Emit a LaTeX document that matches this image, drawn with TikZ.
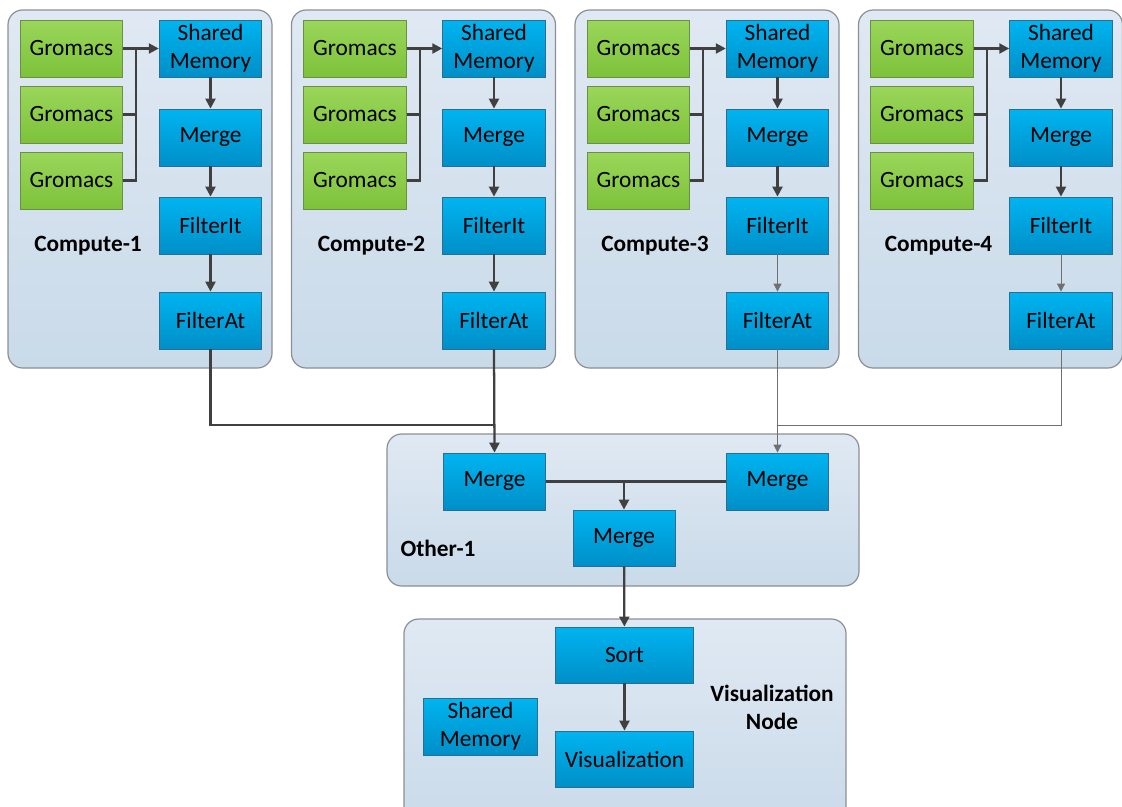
\documentclass[tikz,border=0pt]{standalone}
\usepackage{fontspec}
\setmainfont{Carlito}
\usetikzlibrary{arrows.meta}

\definecolor{hosttop}{HTML}{E0E9F3}
\definecolor{hostbot}{HTML}{C9DAE9}
\definecolor{hostline}{HTML}{8A8F95}
\definecolor{tasktop}{HTML}{00B4F0}
\definecolor{taskbot}{HTML}{008FC8}
\definecolor{taskline}{HTML}{2A6F92}
\definecolor{simtop}{HTML}{9AD65A}
\definecolor{simbot}{HTML}{7DC23A}
\definecolor{simline}{HTML}{6A8F45}
\definecolor{wirecol}{HTML}{404040}

\tikzset{
  host/.style={draw=hostline, line width=0.9pt, rounded corners=11pt,
    top color=hosttop, bottom color=hostbot},
  task/.style={draw=taskline, line width=0.6pt, top color=tasktop, bottom color=taskbot,
    minimum width=77pt, minimum height=42.75pt, inner sep=0pt, align=center},
  sim/.style={task, draw=simline, top color=simtop, bottom color=simbot},
  hostname/.style={font=\fontsize{17.5}{21}\selectfont\bfseries, align=center},
  wire/.style={draw=wirecol, line width=1.7pt},
  flow/.style={wire, -{Triangle[length=7.5pt,width=7.5pt]}},
  thinwire/.style={draw=wirecol!75, line width=0.6pt},
  thinflow/.style={thinwire, -{Triangle[length=6pt,width=6pt]}}
}

\begin{document}
\begin{tikzpicture}[x=0.75pt, y=-0.75pt,
  every node/.style={font=\fontsize{17.5}{21}\selectfont}]
\useasboundingbox (0,0) rectangle (1122,807);
\clip (0,0) rectangle (1122,807);

% compute nodes
\foreach \i in {1,...,4}{
  \pgfmathsetmacro\dx{283.5*(\i-1)}
  \draw[host] (8+\dx,10) rectangle (272+\dx,368);
  \node[sim] (gA\i) at (71.5+\dx,48.5) {Gromacs};
  \node[sim] (gB\i) at (71.5+\dx,114.5) {Gromacs};
  \node[sim] (gC\i) at (71.5+\dx,180.5) {Gromacs};
  \node[task] (sm\i) at (210.5+\dx,48.5) {Shared\\Memory};
  \node[task] (mg\i) at (210.5+\dx,137.5) {Merge};
  \node[task] (fi\i) at (210.5+\dx,225.5) {FilterIt};
  \node[task] (fa\i) at (210.5+\dx,320.5) {FilterAt};
  \node[hostname] (cn\i) at (88+\dx,246) {Compute-\i};
  \draw[flow] (gA\i.east) -- (sm\i.west);
  \draw[wire] (gC\i.east) -- ++(13,0) |- (gA\i.east);
  \draw[wire] (gB\i.east) -- ++(13,0);
  \draw[flow] (sm\i) -- (mg\i);
  \draw[flow] (mg\i) -- (fi\i);
  \ifnum\i>2 \def\lk{thinflow}\else\def\lk{flow}\fi
  \draw[\lk] (fi\i) -- (fa\i);
}

% other node
\draw[host] (387,434) rectangle (859,586);
\node[task, minimum width=76pt] (mL) at (494.5,481.5) {Merge};
\node[task, minimum width=76pt] (mR) at (777.5,481.5) {Merge};
\node[task, minimum width=76.5pt, minimum height=42pt] (mB) at (624,538) {Merge};
\node[hostname] (on) at (438,548) {Other-1};

% visualization node
\draw[host] (404,619) rectangle (846,830);
\node[task, minimum width=104pt, minimum height=42pt] (sort) at (624.5,655) {Sort};
\node[task, minimum width=104pt, minimum height=42pt] (vis) at (624.5,759) {Visualization};
\node[task, minimum width=85pt] (vsm) at (480.5,726.5) {Shared\\Memory};
\node[hostname] (vn) at (772,707) {Visualization\\Node};

% links between hosts
\coordinate (jL) at (494.5,425);
\coordinate (jR) at (777.5,425);
\draw[wire] (fa1.south) |- (jL);
\draw[flow] (fa2.south) -- (mL.north);
\draw[thinwire] (fa4.south) |- (jR);
\draw[thinflow] (fa3.south) -- (mR.north);
\draw[wire] (mL.east) -- (mR.west);
\draw[flow] (mL.east -| mB.north) -- (mB.north);
\draw[flow] (mB) -- (sort);
\draw[flow] (sort) -- (vis);
\end{tikzpicture}
\end{document}
